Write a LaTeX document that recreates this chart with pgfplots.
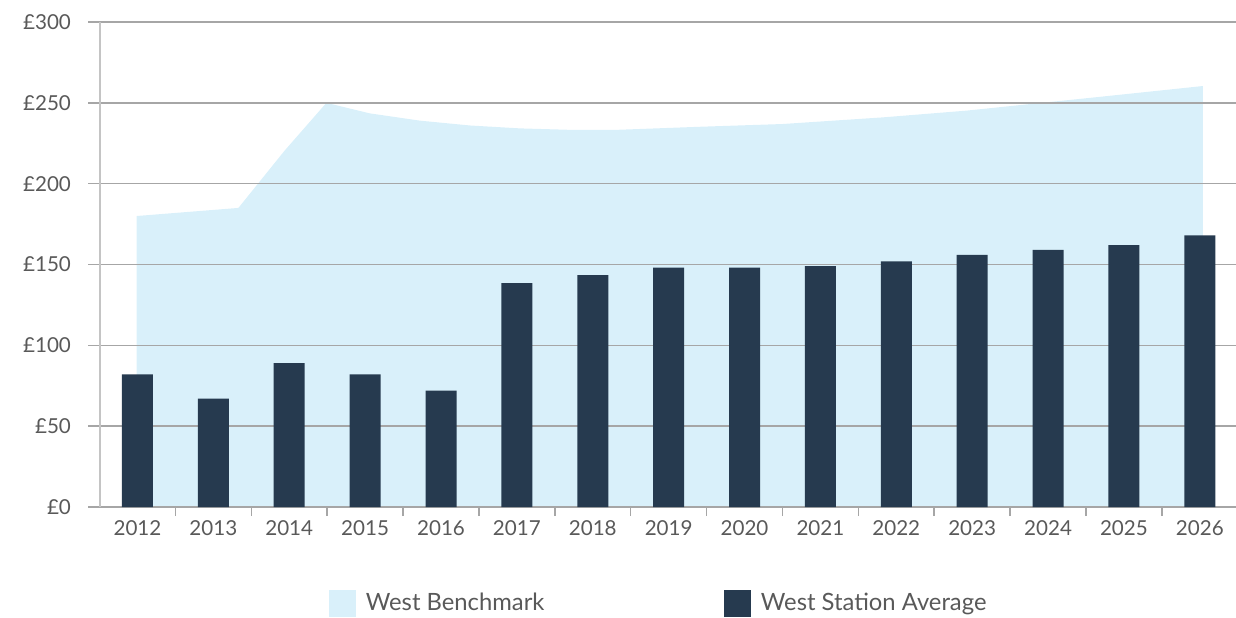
\documentclass[border=0pt]{standalone}
\usepackage{fontspec}
\setmainfont{Lato}
\usepackage{pgfplots}
\pgfplotsset{compat=1.18}
\definecolor{bench}{HTML}{D9F0FA}
\definecolor{navy}{HTML}{263A4F}
\definecolor{gridc}{HTML}{A6A6A6}
\definecolor{yline}{HTML}{C4C4C4}
\definecolor{txt}{HTML}{595959}
\begin{document}
\begin{tikzpicture}
\begin{axis}[
  set layers=standard,
  at={(0pt,0pt)}, anchor=south west,
  width=568pt, height=242.5pt, scale only axis,
  xmin=-0.494, xmax=14.477, ymin=0, ymax=300,
  axis x line*=bottom, axis y line*=left,
  x axis line style={draw=gridc, line width=0.75pt},
  y axis line style={draw=yline, line width=0.75pt},
  ytick={0,50,...,300},
  yticklabels={£0,£50,£100,£150,£200,£250,£300},
  ymajorgrids, grid style={gridc, line width=0.75pt},
  xtick={0,...,14},
  xticklabels={2012,2013,2014,2015,2016,2017,2018,2019,2020,2021,2022,2023,2024,2025,2026},
  minor xtick={0.5,1.5,...,13.5},
  tick align=outside,
  major tick length=6pt, minor tick length=4.5pt,
  major x tick style={draw=none},
  minor x tick style={draw=gridc, line width=0.75pt},
  major y tick style={draw=gridc, line width=0.75pt},
  tick label style={font=\fontsize{10.3}{12}\selectfont, text=txt},
  xticklabel style={yshift=2.5pt},
  yticklabel style={xshift=-5pt},
  /pgf/number format/assume math mode=true,
  legend style={draw=none, fill=none, inner sep=0pt, at={(0.2016,-0.1986)}, anchor=west,
    font=\fontsize{11.9}{13}\selectfont, text=txt,
    /tikz/every odd column/.append style={column sep=2.7pt},
    /tikz/every even column/.append style={column sep=88pt}},
  legend columns=2,
  legend image code/.code={\fill[#1] (0pt,-6.75pt) rectangle (13.5pt,6.75pt);},
]
\addplot[fill=bench, draw=none, on layer=axis background] coordinates {
 (-0.01,180) (1.33,185) (1.94,220.5) (2.49,250) (3.06,243.5) (3.72,239) (4.38,236)
 (5.04,234.2) (5.70,233.3) (6.32,233.3) (7.41,235.2) (8.50,236.9) (9.82,241)
 (10.93,245.2) (11.36,247.3) (12.02,250.5) (12.68,253.7) (14.04,260.4)
} \closedcycle;
\addlegendentry{West Benchmark}
\addplot[ybar, bar width=15.5pt, fill=navy, draw=none] coordinates {
 (0,82) (1,67) (2,89) (3,82) (4,72) (5,138.5) (6,143.5) (7,148) (8,148)
 (9,149) (10,152) (11,156) (12,159) (13,162) (14,168)
};
\addlegendentry{West Station Average}
\end{axis}
\pgfresetboundingbox
\useasboundingbox (-50pt,-55pt) rectangle (568pt,253.5pt);
\end{tikzpicture}
\end{document}
